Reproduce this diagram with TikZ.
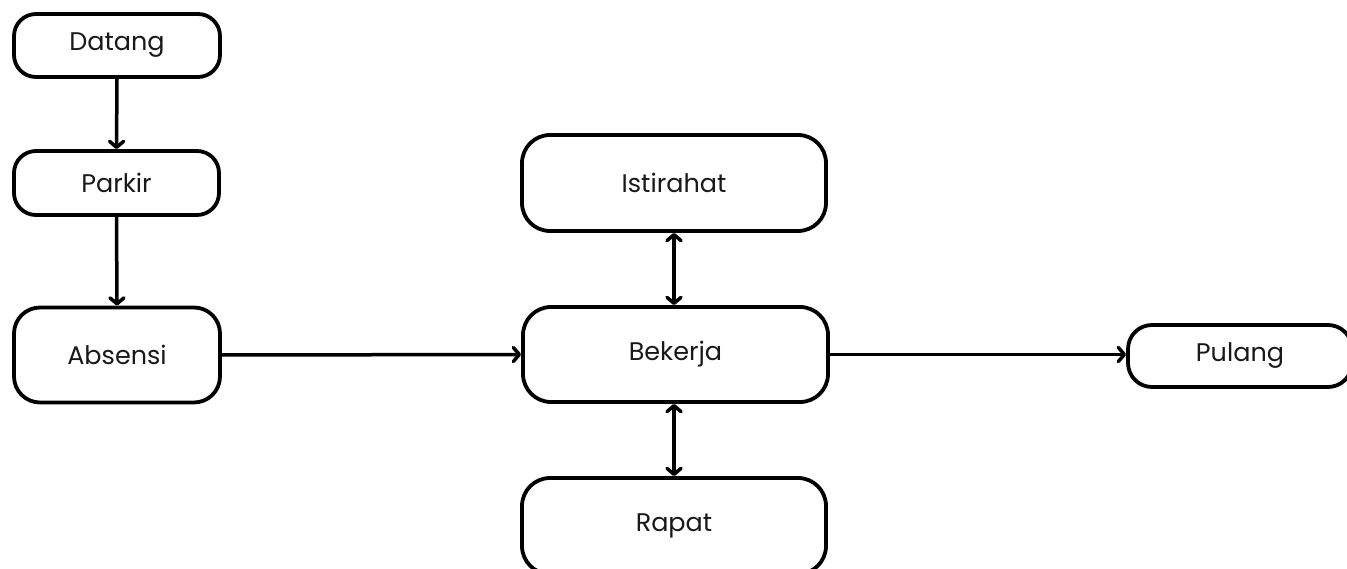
\documentclass[tikz,border=0pt]{standalone}
\usepackage{fontspec}
\setmainfont{Poppins}
\usetikzlibrary{arrows.meta}
\begin{document}
\begin{tikzpicture}[x=1pt,y=-1pt,
  box/.style={draw=black, line width=3.8pt, rounded corners=#1, inner sep=0pt, align=center, font=\fontsize{25.5}{30}\selectfont, text=black!90},
  box/.default=22pt,
  tip/.style={},
  conn/.style={line width=3.5pt, -{Straight Barb[length=6pt,width=14pt,line cap=round,line join=round]}},
  dconn/.style={line width=3.5pt, {Straight Barb[length=6pt,width=14pt,line cap=round,line join=round]}-{Straight Barb[length=6pt,width=14pt,line cap=round,line join=round]}}]
\useasboundingbox (0,0) rectangle (1347,569);
\clip (0,0) rectangle (1347,569);
\node[box=22pt, minimum width=206pt, minimum height=63pt] (datang) at (117,45.5) {Datang};
\node[box=22pt, minimum width=205pt, minimum height=64pt] (parkir) at (116.5,183) {Parkir};
\node[box=26pt, minimum width=206pt, minimum height=95pt] (absensi) at (117,355) {Absensi};
\node[box=28pt, minimum width=304pt, minimum height=96pt] (istirahat) at (674,183) {Istirahat};
\node[box=28pt, minimum width=305pt, minimum height=95pt] (bekerja) at (675.5,354.5) {Bekerja};
\node[box=28pt, minimum width=304pt, minimum height=96pt] (rapat) at (674,526) {Rapat};
\node[box=24pt, minimum width=224pt, minimum height=62pt] (pulang) at (1240,356) {Pulang};
\draw[conn] (datang.south) -- (parkir.north);
\draw[conn] (parkir.south) -- (absensi.north);
\draw[conn] (absensi.east) -- (bekerja.west);
\draw[conn] (bekerja.east) -- (pulang.west |- bekerja.east);
\draw[dconn] (istirahat.south) -- (istirahat.south |- bekerja.north);
\draw[dconn] (bekerja.south -| rapat.north) -- (rapat.north);
\end{tikzpicture}
\end{document}
